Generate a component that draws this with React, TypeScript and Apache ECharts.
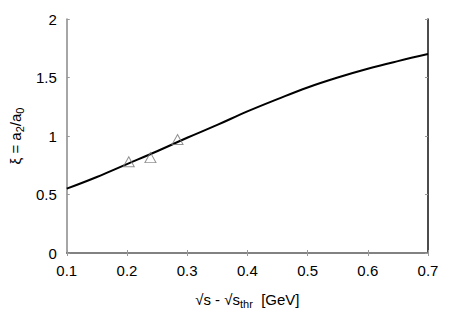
import React, { useEffect, useRef } from "react";
import * as echarts from "echarts";

const curveX = [0.1, 0.15, 0.2, 0.25, 0.3, 0.35, 0.4, 0.45, 0.5, 0.55, 0.6, 0.65, 0.7];
const curveY = [0.55, 0.65, 0.76, 0.87, 0.985, 1.095, 1.21, 1.315, 1.415, 1.5, 1.575, 1.64, 1.7];
const dataX = [0.203, 0.239, 0.284];
const dataY = [0.78, 0.815, 0.97];

const FONT = "'Liberation Sans', Arial, sans-serif";

export default function App() {
  const ref = useRef<HTMLDivElement>(null);
  useEffect(() => {
    if (!ref.current) return;
    const chart = echarts.init(ref.current, null, { renderer: "svg" });
    const tickLabel = { fontFamily: FONT, fontSize: 15, color: "#000" };
    const nameStyle = {
      fontFamily: FONT,
      fontSize: 15,
      color: "#000",
      rich: { sub: { fontFamily: FONT, fontSize: 11, verticalAlign: "bottom", padding: [8, 0, 0, 0] } },
    };
    chart.setOption({
      animation: false,
      backgroundColor: "#fff",
      grid: { left: 62, right: 29, top: 19, bottom: 67, containLabel: false },
      xAxis: [
        {
          type: "value",
          min: 0.1,
          max: 0.7,
          interval: 0.1,
          position: "bottom",
          axisLine: { show: true, lineStyle: { color: "#444", width: 1.5 } },
          axisTick: { show: true, inside: true, length: 3, lineStyle: { color: "#999" } },
          axisLabel: { ...tickLabel, margin: 10, formatter: (v: number) => v.toFixed(1) },
          splitLine: { show: false },
          name: "√s - √s{sub|thr}  [GeV]",
          nameLocation: "middle",
          nameGap: 37,
          nameTextStyle: nameStyle,
        },
        {
          type: "value",
          min: 0.1,
          max: 0.7,
          interval: 0.1,
          position: "top",
          axisLine: { show: true, lineStyle: { color: "#888", width: 1.5 } },
          axisTick: { show: true, inside: true, length: 3, lineStyle: { color: "#999" } },
          axisLabel: { show: false },
          splitLine: { show: false },
        },
      ],
      yAxis: [
        {
          type: "value",
          min: 0,
          max: 2,
          interval: 0.5,
          position: "left",
          axisLine: { show: true, lineStyle: { color: "#888", width: 1.5 } },
          axisTick: { show: true, inside: true, length: 3, lineStyle: { color: "#999" } },
          axisLabel: { ...tickLabel, margin: 10 },
          splitLine: { show: false },
          name: "ξ = a{sub|2}/a{sub|0}",
          nameLocation: "middle",
          nameGap: 38,
          nameRotate: 90,
          nameTextStyle: nameStyle,
        },
        {
          type: "value",
          min: 0,
          max: 2,
          interval: 0.5,
          position: "right",
          axisLine: { show: true, lineStyle: { color: "#111", width: 1.5 } },
          axisTick: { show: true, inside: true, length: 3, lineStyle: { color: "#999" } },
          axisLabel: { show: false },
          splitLine: { show: false },
        },
      ],
      series: [
        {
          type: "line",
          xAxisIndex: 0,
          yAxisIndex: 0,
          data: curveX.map((x, i) => [x, curveY[i]]),
          smooth: 0.4,
          showSymbol: false,
          lineStyle: { color: "#000", width: 2 },
          z: 3,
        },
        {
          type: "scatter",
          xAxisIndex: 0,
          yAxisIndex: 0,
          data: dataX.map((x, i) => [x, dataY[i]]),
          symbol: "triangle",
          symbolSize: [11, 10],
          itemStyle: { color: "transparent", borderColor: "#777", borderWidth: 1 },
          z: 4,
        },
      ],
    });
    return () => chart.dispose();
  }, []);
  return <div ref={ref} style={{ width: 457, height: 320, margin: -8 }} />;
}
